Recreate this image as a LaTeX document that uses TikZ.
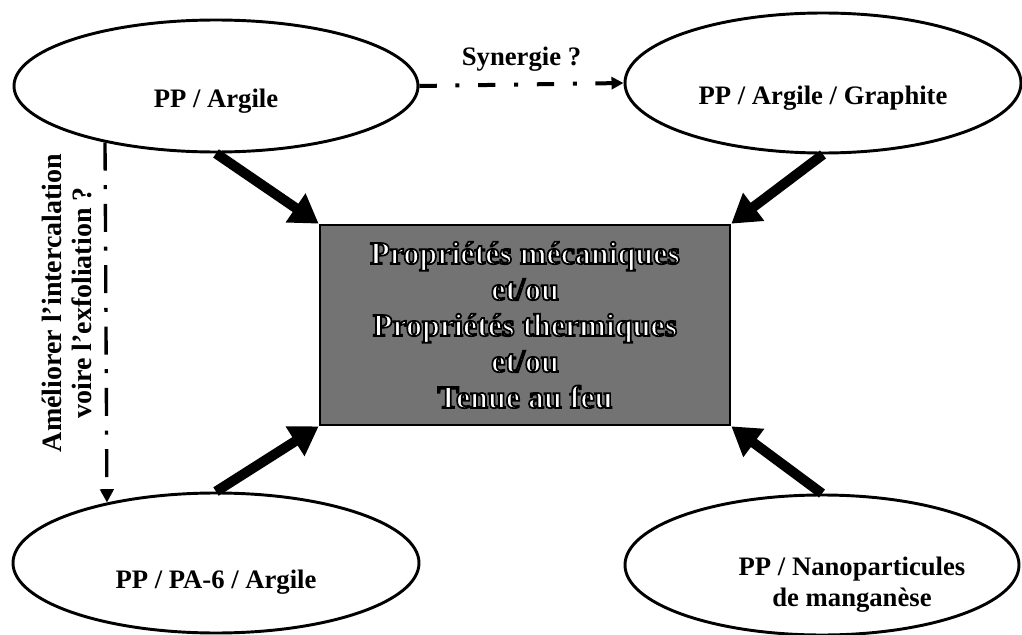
\documentclass[tikz,border=0pt]{standalone}
\usepackage{fontspec}
\setmainfont{Liberation Serif}
\usetikzlibrary{shapes.geometric}
\usetikzlibrary{arrows.meta}
\definecolor{boxgray}{gray}{0.45}
% white letters with a black outline (text render mode 2)
\newcommand{\outlinetext}[1]{\special{pdf:literal direct q 2 Tr 1.3 w 0 G}#1\special{pdf:literal direct Q}}

\begin{document}
\begin{tikzpicture}
[x=0.75pt,y=-0.75pt,
font=\bfseries\fontsize{20}{23}\selectfont,
blend/.style={ellipse, draw, line width=2.2pt, inner sep=0pt},
result/.style={rectangle, draw, line width=2pt, fill=boxgray,
text=white, align=center,
minimum width=307.5pt, minimum height=150pt,
font=\bfseries\fontsize{24}{27}\selectfont},
bigarrow/.style={line width=7.5pt, -{Triangle[length=21pt,width=25pt]}},
dashdot/.style={line width=3pt, dash pattern=on 13pt off 14pt on 3pt off 14pt,
-{Triangle[length=9pt,width=9pt]}},
dashdotv/.style={line width=2.5pt, dash pattern=on 21pt off 11pt on 3pt off 11pt,
-{Triangle[length=10pt,width=10pt]}}]
\useasboundingbox (0,0) rectangle (1022,635);

% the four blends round the result box
\node [blend, minimum width=303pt, minimum height=99pt, text height=37pt]
  (argile) at (216,86) {PP / Argile};
\node [blend, minimum width=297pt, minimum height=105pt, text height=37pt]
  (graphite) at (823,83) {PP / Argile / Graphite};
\node [blend, minimum width=304.5pt, minimum height=105pt, text height=42pt]
  (pa6) at (216,563) {PP / PA-6 / Argile};
\node [blend, minimum width=295.5pt, minimum height=105pt] (nano) at (822,565) {};
\node [align=center] (nanotext) at (852,585) {PP / Nanoparticules\\de manganèse};

\node [result] (props) at (525,325)
  {\outlinetext{Propriétés mécaniques}\\
   \outlinetext{et/ou}\\
   \outlinetext{Propriétés thermiques}\\
   \outlinetext{et/ou}\\
   \outlinetext{Tenue au feu}};

\draw [bigarrow] (argile.south) -- (props.north west);
\draw [bigarrow] (graphite.south) -- (props.north east);
\draw [bigarrow] (pa6.north) -- (props.south west);
\draw [bigarrow] (nano.north) -- (props.south east);

\draw [dashdot] (argile.east) -- node [above=5pt] (syn) {Synergie ?} (graphite.west);
\draw [dashdotv] (argile.207) -- (pa6.151);
\node [rotate=90, align=center, font=\bfseries\fontsize{21}{23}\selectfont]
  (improve) at (67,303) {Améliorer l’intercalation\\voire l’exfoliation ?};
\end{tikzpicture}
\end{document}
